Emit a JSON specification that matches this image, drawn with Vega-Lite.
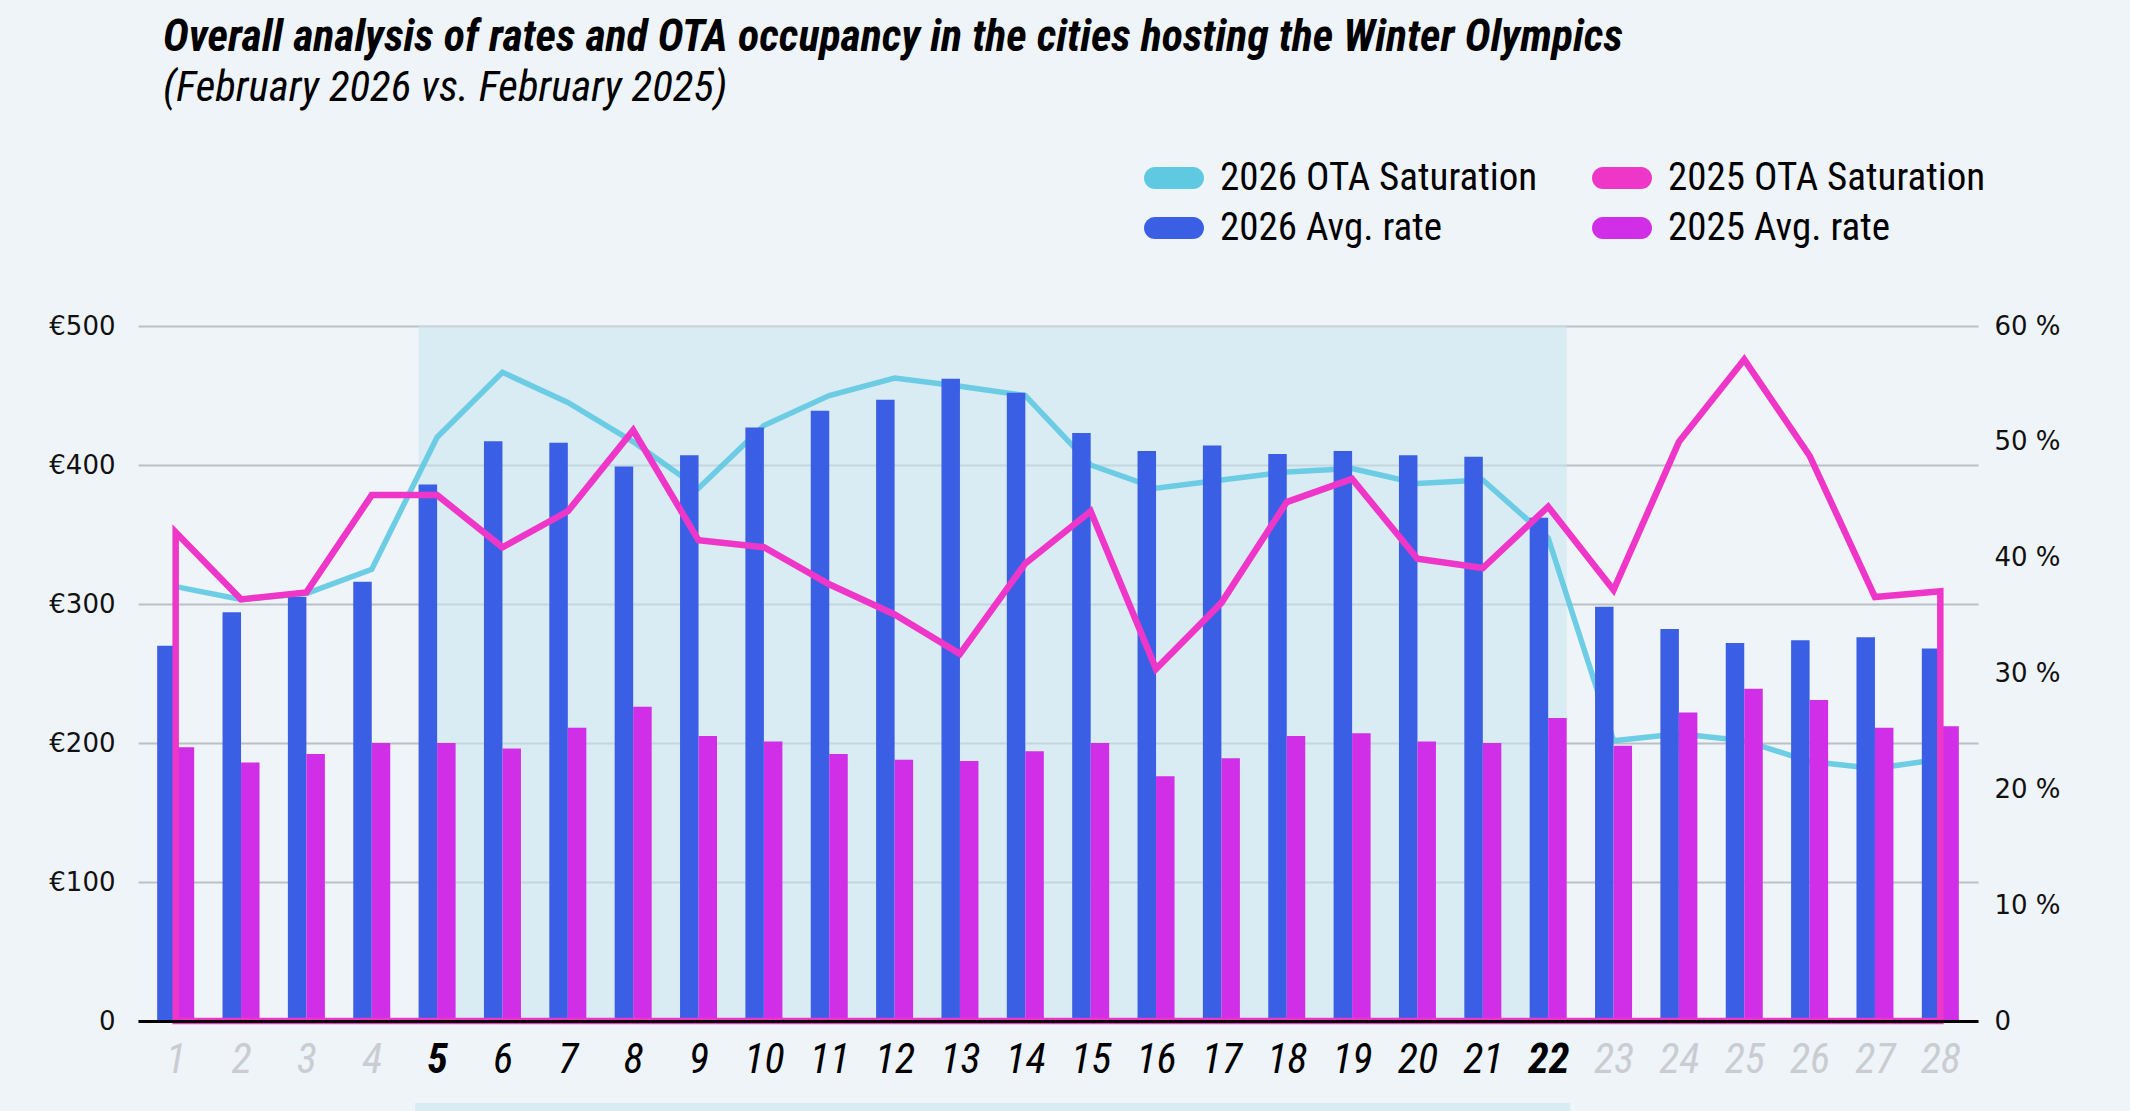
{
  "$schema": "https://vega.github.io/schema/vega-lite/v6.json",
  "width": 1840,
  "height": 695,
  "autosize": {"type": "none"},
  "padding": {"left": 138, "top": 326, "right": 152, "bottom": 90},
  "background": "#eff4f8",
  "title": {
    "text": "Overall analysis of rates and OTA occupancy in the cities hosting the Winter Olympics",
    "subtitle": "(February 2026 vs. February 2025)",
    "anchor": "start",
    "frame": "group",
    "dx": 25,
    "offset": 38,
    "font": "Roboto Condensed, Liberation Sans",
    "fontSize": 44,
    "fontWeight": "bold",
    "fontStyle": "italic",
    "color": "#000000",
    "subtitleFont": "Roboto Condensed, Liberation Sans",
    "subtitleFontSize": 43,
    "subtitleFontStyle": "italic",
    "subtitleColor": "#000000",
    "subtitlePadding": 7
  },
  "data": {
    "values": [
      {"day": 1, "r26": 270, "r25": 197, "o26": 37.5, "o25": 42.2},
      {"day": 2, "r26": 294, "r25": 186, "o26": 36.4, "o25": 36.4},
      {"day": 3, "r26": 305, "r25": 192, "o26": 36.9, "o25": 37.0},
      {"day": 4, "r26": 316, "r25": 200, "o26": 39.0, "o25": 45.4},
      {"day": 5, "r26": 386, "r25": 200, "o26": 50.4, "o25": 45.4},
      {"day": 6, "r26": 417, "r25": 196, "o26": 56.0, "o25": 40.9},
      {"day": 7, "r26": 416, "r25": 211, "o26": 53.4, "o25": 44.0},
      {"day": 8, "r26": 399, "r25": 226, "o26": 50.0, "o25": 51.0},
      {"day": 9, "r26": 407, "r25": 205, "o26": 46.0, "o25": 41.5},
      {"day": 10, "r26": 427, "r25": 201, "o26": 51.4, "o25": 40.9},
      {"day": 11, "r26": 439, "r25": 192, "o26": 54.0, "o25": 37.7},
      {"day": 12, "r26": 447, "r25": 188, "o26": 55.5, "o25": 35.1},
      {"day": 13, "r26": 462, "r25": 187, "o26": 54.8, "o25": 31.7},
      {"day": 14, "r26": 452, "r25": 194, "o26": 54.0, "o25": 39.5},
      {"day": 15, "r26": 423, "r25": 200, "o26": 48.0, "o25": 44.0},
      {"day": 16, "r26": 410, "r25": 176, "o26": 46.0, "o25": 30.4},
      {"day": 17, "r26": 414, "r25": 189, "o26": 46.7, "o25": 36.1},
      {"day": 18, "r26": 408, "r25": 205, "o26": 47.4, "o25": 44.8},
      {"day": 19, "r26": 410, "r25": 207, "o26": 47.7, "o25": 46.8},
      {"day": 20, "r26": 407, "r25": 201, "o26": 46.4, "o25": 39.9},
      {"day": 21, "r26": 406, "r25": 200, "o26": 46.7, "o25": 39.1},
      {"day": 22, "r26": 362, "r25": 218, "o26": 41.7, "o25": 44.4},
      {"day": 23, "r26": 298, "r25": 198, "o26": 24.2, "o25": 37.2},
      {"day": 24, "r26": 282, "r25": 222, "o26": 24.8, "o25": 50.0},
      {"day": 25, "r26": 272, "r25": 239, "o26": 24.2, "o25": 57.1},
      {"day": 26, "r26": 274, "r25": 231, "o26": 22.4, "o25": 48.8},
      {"day": 27, "r26": 276, "r25": 211, "o26": 21.8, "o25": 36.6},
      {"day": 28, "r26": 268, "r25": 212, "o26": 22.6, "o25": 37.1}
    ]
  },
  "layer": [
    {
      "data": {"values": [{"start": 5, "end": 22}]},
      "mark": {"type": "rect", "fill": "#cae5f0", "opacity": 0.6, "xOffset": -18.5, "x2Offset": 18.5},
      "encoding": {
        "x": {
          "field": "start", "type": "quantitative",
          "scale": {"domain": [0.5, 28.5], "nice": false, "zero": false},
          "axis": {
            "title": null,
            "values": [1,2,3,4,5,6,7,8,9,10,11,12,13,14,15,16,17,18,19,20,21,22,23,24,25,26,27,28],
            "format": "d",
            "grid": false, "ticks": false,
            "domain": true, "domainColor": "#000000", "domainWidth": 3,
            "labelFont": "Roboto Condensed, Liberation Sans",
            "labelFontSize": 42, "labelFontStyle": "italic",
            "labelPadding": 18, "labelFlush": false, "labelOverlap": false,
            "labelColor": {"condition": {"test": "datum.value < 5 || datum.value > 22", "value": "#c9cdd2"}, "value": "#000000"},
            "labelFontWeight": {"condition": {"test": "datum.value == 5 || datum.value == 22", "value": "bold"}, "value": "normal"},
            "zindex": 1
          }
        },
        "x2": {"field": "end"}
      }
    },
    {
      "data": {"values": [{"start": 5, "end": 22, "stripTop": -59, "stripBottom": -90}]},
      "mark": {"type": "rect", "fill": "#cae5f0", "opacity": 0.6, "xOffset": -22, "x2Offset": 22, "clip": false},
      "encoding": {
        "x": {"field": "start", "type": "quantitative", "scale": {"domain": [0.5, 28.5], "nice": false, "zero": false}, "title": null},
        "x2": {"field": "end"},
        "y": {"field": "stripTop", "type": "quantitative", "scale": {"domain": [0, 500], "nice": false, "zero": false}, "axis": null},
        "y2": {"field": "stripBottom"}
      }
    },
    {
      "mark": {"type": "line", "strokeWidth": 5.5, "opacity": 0.9},
      "encoding": {
        "x": {"field": "day", "type": "quantitative", "scale": {"domain": [0.5, 28.5], "nice": false, "zero": false}, "title": null},
        "y": {"field": "o26", "type": "quantitative", "scale": {"domain": [0, 60], "nice": false}, "axis": null},
        "color": {
          "datum": "2026 OTA Saturation",
          "type": "nominal",
          "scale": {
            "domain": ["2026 OTA Saturation", "2026 Avg. rate", "2025 OTA Saturation", "2025 Avg. rate"],
            "range": ["#5ec9e1", "#3b5fe4", "#ee37c9", "#d12ee7"]
          },
          "legend": {
            "orient": "none",
            "legendX": 1006,
            "legendY": -178,
            "columns": 2,
            "title": null,
            "padding": 0,
            "symbolType": "M-0.63,-0.37L0.63,-0.37A0.37,0.37,0,0,1,0.63,0.37L-0.63,0.37A0.37,0.37,0,0,1,-0.63,-0.37Z",
            "symbolSize": 3600,
            "symbolStrokeWidth": 0,
            "symbolOpacity": 1,
            "labelFont": "Roboto Condensed, Liberation Sans",
            "labelFontSize": 39,
            "labelColor": "#000000",
            "labelOffset": 16,
            "columnPadding": 54,
            "rowPadding": -11,
            "labelLimit": 600,
            "encode": {
              "symbols": {"update": {"fill": {"scale": "color", "field": "value"}, "stroke": {"value": "transparent"}, "opacity": {"value": 1}}}
            }
          }
        }
      }
    },
    {
      "mark": {"type": "bar", "width": 18.5, "xOffset": -9.25},
      "encoding": {
        "x": {"field": "day", "type": "quantitative", "scale": {"domain": [0.5, 28.5], "nice": false, "zero": false}, "title": null},
        "y": {
          "field": "r26", "type": "quantitative",
          "scale": {"domain": [0, 500], "nice": false},
          "axis": {
            "orient": "left", "title": null,
            "values": [0, 100, 200, 300, 400, 500],
            "labelExpr": "datum.value == 0 ? '0' : '€' + datum.value",
            "grid": true, "gridColor": "#bcc0c4", "gridWidth": 2,
            "domain": false, "ticks": false,
            "labelPadding": 23,
            "labelFont": "DejaVu Sans", "labelFontSize": 26, "labelColor": "#111111"
          }
        },
        "color": {"datum": "2026 Avg. rate", "type": "nominal"}
      }
    },
    {
      "mark": {"type": "bar", "width": 18.5, "xOffset": 9.25},
      "encoding": {
        "x": {"field": "day", "type": "quantitative", "scale": {"domain": [0.5, 28.5], "nice": false, "zero": false}, "title": null},
        "y": {"field": "r25", "type": "quantitative", "scale": {"domain": [0, 500], "nice": false}, "axis": null},
        "color": {"datum": "2025 Avg. rate", "type": "nominal"}
      }
    },
    {
      "mark": {"type": "area", "fill": "transparent", "fillOpacity": 0, "strokeWidth": 6.5, "strokeJoin": "miter"},
      "encoding": {
        "x": {"field": "day", "type": "quantitative", "scale": {"domain": [0.5, 28.5], "nice": false, "zero": false}, "title": null},
        "y": {
          "field": "o25", "type": "quantitative",
          "scale": {"domain": [0, 60], "nice": false},
          "axis": {
            "orient": "right", "title": null,
            "values": [0, 10, 20, 30, 40, 50, 60],
            "labelExpr": "datum.value == 0 ? '0' : datum.value + ' %'",
            "grid": false, "domain": false, "ticks": false,
            "labelPadding": 16,
            "labelFont": "DejaVu Sans", "labelFontSize": 26, "labelColor": "#111111"
          }
        },
        "stroke": {"datum": "2025 OTA Saturation", "type": "nominal", "scale": {"domain": ["2026 OTA Saturation", "2026 Avg. rate", "2025 OTA Saturation", "2025 Avg. rate"], "range": ["#5ec9e1", "#3b5fe4", "#ee37c9", "#d12ee7"]}, "legend": null}
      }
    }
  ],
  "resolve": {"scale": {"y": "independent"}},
  "config": {
    "view": {"stroke": null},
    "axis": {"labelFont": "DejaVu Sans"}
  }
}
